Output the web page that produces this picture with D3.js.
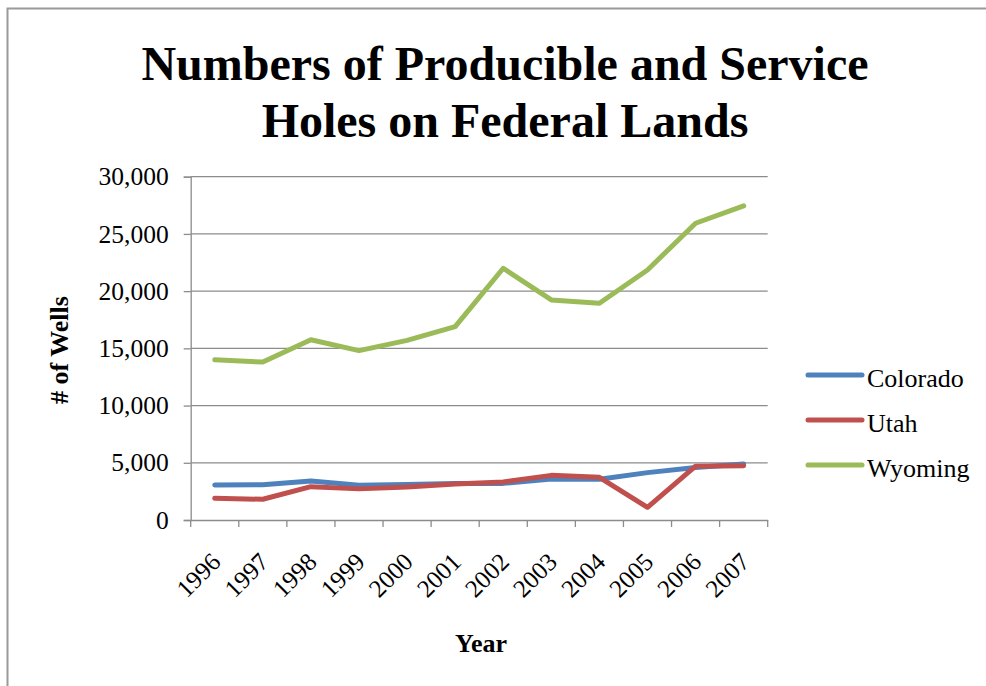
<!DOCTYPE html>
<html><head><meta charset="utf-8">
<script src="https://cdn.jsdelivr.net/npm/d3@7"></script>
<style>html,body{margin:0;padding:0;background:#fff;}svg{display:block;}</style>
</head><body>
<svg id="chart" width="986" height="686"></svg>
<script>
const years = ["1996","1997","1998","1999","2000","2001","2002","2003","2004","2005","2006","2007"];
const colorado = [3060, 3080, 3410, 3030, 3100, 3180, 3200, 3580, 3560, 4140, 4580, 4900];
const utah = [1890, 1810, 2910, 2720, 2880, 3150, 3320, 3900, 3730, 1110, 4700, 4750];
const wyoming = [14000, 13800, 15750, 14800, 15700, 16900, 22000, 19230, 18940, 21850, 25930, 27450];
const seriesNames = ["Colorado", "Utah", "Wyoming"];
const seriesColors = ["#4F81BD", "#C0504D", "#9BBB59"];
const yTicks = [0, 5000, 10000, 15000, 20000, 25000, 30000];

const seriesData = [colorado, utah, wyoming];
const svg = d3.select("#chart");
const serif = "'Liberation Serif','Times New Roman',serif";

// outer border
svg.append("path").attr("d", "M7.5,686 L7.5,8.5 L986,8.5")
  .attr("fill", "none").attr("stroke", "#9a9a9a").attr("stroke-width", 2);

const pLeft = 190.7, pRight = 767.7, pTop = 176.7, pBottom = 520;
const x = d3.scaleBand().domain(years).range([pLeft, pRight]);
const y = d3.scaleLinear().domain([0, 30000]).range([pBottom, pTop]);

// gridlines
svg.append("g").selectAll("line").data(yTicks.filter(d => d > 0)).join("line")
  .attr("x1", pLeft).attr("x2", pRight)
  .attr("y1", d => y(d)).attr("y2", d => y(d))
  .attr("stroke", "#8c8c8c").attr("stroke-width", 1.3);

// y axis
const yAxis = svg.append("g").attr("transform", `translate(${pLeft},0)`)
  .call(d3.axisLeft(y).tickValues(yTicks).tickFormat(d3.format(",")).tickSize(7).tickPadding(15));
yAxis.select(".domain").attr("stroke", "#8c8c8c").attr("stroke-width", 1.3);
yAxis.selectAll(".tick line").attr("stroke", "#8c8c8c").attr("stroke-width", 1.3);
yAxis.selectAll("text").attr("font-family", serif).attr("font-size", 25.5).attr("fill", "#000");

// x axis
const xAxis = svg.append("g").attr("transform", `translate(0,${pBottom})`)
  .call(d3.axisBottom(x).tickSize(0).tickFormat(""));
xAxis.select(".domain").attr("stroke", "#8c8c8c").attr("stroke-width", 1.3);
const xTickPos = years.map((d, i) => x(d)).concat([pRight]);
svg.append("g").selectAll("line").data(xTickPos).join("line")
  .attr("x1", d => d).attr("x2", d => d).attr("y1", pBottom).attr("y2", pBottom + 7)
  .attr("stroke", "#8c8c8c").attr("stroke-width", 1.3);
svg.append("g").selectAll("text").data(years).join("text")
  .attr("transform", d => `translate(${x(d) + x.bandwidth() / 2 - 5},${pBottom + 31}) rotate(-45)`)
  .attr("text-anchor", "end").attr("dy", "0.7em")
  .attr("font-family", serif).attr("font-size", 25).attr("fill", "#000")
  .text(d => d);

// lines
const line = d3.line().x((d, i) => x(years[i]) + x.bandwidth() / 2).y(d => y(d));
seriesData.forEach((vals, k) => {
  svg.append("path").datum(vals).attr("d", line)
    .attr("fill", "none").attr("stroke", seriesColors[k]).attr("stroke-width", 5)
    .attr("stroke-linejoin", "round").attr("stroke-linecap", "round");
});

// title
const title = svg.append("text").attr("text-anchor", "middle")
  .attr("font-family", serif).attr("font-weight", "bold").attr("font-size", 48).attr("fill", "#000");
title.append("tspan").attr("x", 505).attr("y", 80).text("Numbers of Producible and Service");
title.append("tspan").attr("x", 505).attr("y", 137).text("Holes on Federal Lands");

// axis titles
svg.append("text").attr("x", 481).attr("y", 652).attr("text-anchor", "middle")
  .attr("font-family", serif).attr("font-weight", "bold").attr("font-size", 26).text("Year");
svg.append("text").attr("transform", "translate(68,350) rotate(-90)").attr("text-anchor", "middle")
  .attr("font-family", serif).attr("font-weight", "bold").attr("font-size", 26).text("# of Wells");

// legend
const legend = svg.append("g").selectAll("g").data(seriesNames).join("g")
  .attr("transform", (d, i) => `translate(808,${375 + i * 45})`);
legend.append("line").attr("x1", 0).attr("x2", 54).attr("y1", 0).attr("y2", 0)
  .attr("stroke", (d, i) => seriesColors[i]).attr("stroke-width", 5).attr("stroke-linecap", "round");
legend.append("text").attr("x", 59).attr("y", 12).attr("font-family", serif).attr("font-size", 26)
  .attr("fill", "#000").text(d => d);
</script>
</body></html>
